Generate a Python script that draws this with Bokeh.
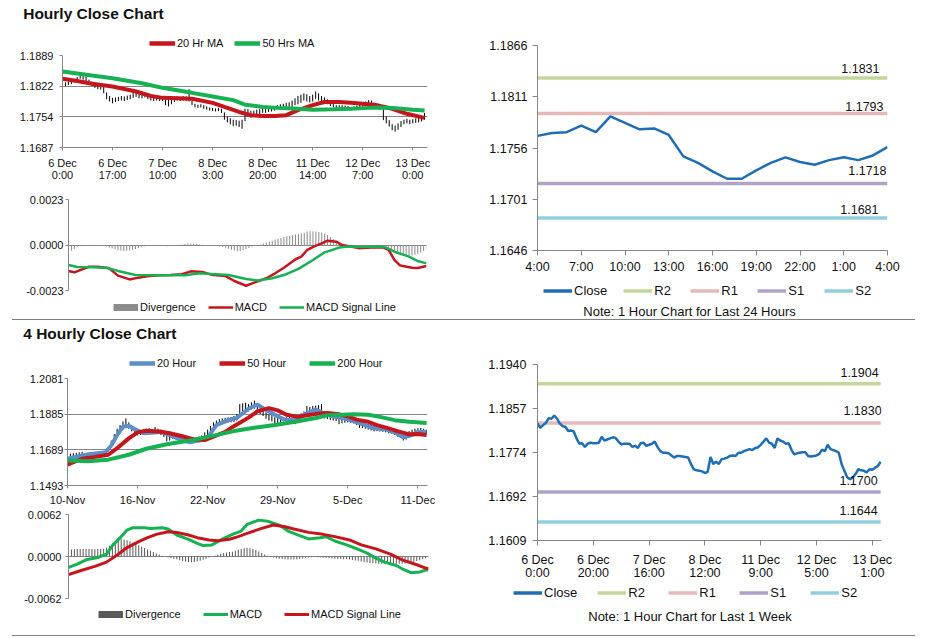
from bokeh.plotting import figure
from bokeh.models import (Range1d, FixedTicker, Legend, LegendItem, Label, Div,
                          ColumnDataSource, NumeralTickFormatter)
from bokeh.layouts import column, row
from bokeh.embed import file_html
from bokeh.resources import INLINE
from bokeh.core.properties import value

# ---------------------------------------------------------------- data
# Hourly close chart (hour index 0 = 6 Dec 0:00)
p1_lo = [1.1826,1.1822,1.1824,1.1826,1.1830,1.1836,1.1838,1.1836,1.1832,1.1827,
         1.1822,1.1818,1.1815,1.1814,1.1806,1.1793,1.1788,1.1784,1.1787,1.1789,
         1.1790,1.1789,1.1791,1.1793,1.1796,1.1798,1.1795,1.1795,1.1797,1.1793,
         1.1790,1.1789,1.1790,1.1789,1.1789,1.1780,1.1777,1.1782,1.1787,1.1790,
         1.1789,1.1790,1.1789,1.1788,1.1780,1.1775,1.1774,1.1775,1.1772,1.1770,
         1.1768,1.1767,1.1766,1.1767,1.1763,1.1748,1.1742,1.1738,1.1734,1.1735,
         1.1732,1.1728,1.1745,1.1755,1.1752,1.1755,1.1758,1.1760,1.1763,1.1763,
         1.1765,1.1766,1.1768,1.1772,1.1770,1.1773,1.1775,1.1774,1.1776,1.1780,
         1.1782,1.1785,1.1790,1.1788,1.1786,1.1788,1.1794,1.1790,1.1788,1.1785,
         1.1782,1.1778,1.1775,1.1770,1.1772,1.1773,1.1772,1.1770,1.1768,1.1770,
         1.1772,1.1774,1.1777,1.1778,1.1780,1.1779,1.1776,1.1773,1.1770,1.1747,
         1.1740,1.1733,1.1725,1.1722,1.1726,1.1732,1.1738,1.1740,1.1738,1.1740,
         1.1741,1.1742,1.1744,1.1748]
p1_hi = [1.1833,1.1830,1.1832,1.1834,1.1838,1.1842,1.1846,1.1847,1.1843,1.1836,
         1.1832,1.1830,1.1826,1.1825,1.1822,1.1808,1.1800,1.1796,1.1797,1.1798,
         1.1800,1.1799,1.1801,1.1803,1.1808,1.1809,1.1806,1.1804,1.1806,1.1804,
         1.1799,1.1797,1.1799,1.1796,1.1798,1.1793,1.1792,1.1795,1.1797,1.1799,
         1.1797,1.1800,1.1799,1.1815,1.1790,1.1783,1.1781,1.1782,1.1780,1.1777,
         1.1775,1.1774,1.1773,1.1774,1.1772,1.1764,1.1755,1.1751,1.1748,1.1747,
         1.1746,1.1748,1.1772,1.1772,1.1768,1.1768,1.1770,1.1771,1.1772,1.1773,
         1.1775,1.1776,1.1778,1.1780,1.1782,1.1783,1.1785,1.1786,1.1790,1.1795,
         1.1800,1.1803,1.1806,1.1804,1.1800,1.1803,1.1810,1.1806,1.1800,1.1797,
         1.1793,1.1790,1.1786,1.1780,1.1780,1.1780,1.1779,1.1778,1.1776,1.1777,
         1.1779,1.1781,1.1783,1.1788,1.1791,1.1790,1.1785,1.1782,1.1778,1.1772,
         1.1755,1.1747,1.1738,1.1735,1.1740,1.1745,1.1748,1.1750,1.1748,1.1749,
         1.1751,1.1752,1.1755,1.1763]
p1_ma20_x = [0,5,10,17,25,30,34,44,51,55,60,64,68,72,76,80,85,89,94,98,102,106,112,117,123]
p1_ma20 = [1.1838,1.1833,1.1827,1.1821,1.1810,1.1800,1.1796,1.1794,1.1785,1.1776,
           1.1765,1.1758,1.1756,1.1756,1.1758,1.1769,1.1780,1.1787,1.1787,1.1785,
           1.1783,1.1781,1.1772,1.1761,1.1752]
p1_ma50_x = [0,10,17,27,34,44,51,58,62,68,73,80,85,92,98,104,107,112,119,123]
p1_ma50 = [1.1854,1.1845,1.1839,1.1828,1.1818,1.1807,1.1799,1.1791,1.1781,1.1776,
           1.1774,1.1772,1.1770,1.1771,1.1772,1.1774,1.1775,1.1774,1.1770,1.1768]
p1_tick_idx = [0, 17, 34, 51, 68, 85, 102, 119]
p1_tick_labels = ["6 Dec\n0:00", "6 Dec\n17:00", "7 Dec\n10:00", "8 Dec\n3:00",
                  "8 Dec\n20:00", "11 Dec\n14:00", "12 Dec\n7:00", "13 Dec\n0:00"]
p1_yticks = [1.1687, 1.1754, 1.1822, 1.1889]

# Hourly MACD
p2_div = [-0.00034,-0.00028,-0.00020,-0.00012,-0.00006,-0.00003,-0.00002,-0.00001,0.00000,0.00000,
          -0.00001,-0.00002,-0.00004,-0.00008,-0.00013,-0.00018,-0.00022,-0.00026,-0.00029,-0.00030,
          -0.00029,-0.00027,-0.00024,-0.00020,-0.00016,-0.00012,-0.00008,-0.00005,-0.00003,-0.00002,
          -0.00002,-0.00003,-0.00004,-0.00005,-0.00006,-0.00005,-0.00003,-0.00001,0.00001,0.00003,
          0.00005,0.00007,0.00008,0.00008,0.00006,0.00003,0.00001,-0.00001,-0.00002,-0.00003,
          -0.00004,-0.00005,-0.00007,-0.00010,-0.00014,-0.00019,-0.00024,-0.00028,-0.00031,-0.00030,
          -0.00026,-0.00021,-0.00015,-0.00009,-0.00004,0.00000,0.00003,0.00006,0.00010,0.00016,
          0.00022,0.00028,0.00032,0.00036,0.00040,0.00044,0.00047,0.00050,0.00053,0.00056,
          0.00058,0.00062,0.00068,0.00070,0.00070,0.00068,0.00066,0.00063,0.00058,0.00050,
          0.00040,0.00030,0.00018,0.00008,0.00002,-0.00002,-0.00004,-0.00005,-0.00006,-0.00006,
          -0.00005,-0.00004,-0.00003,-0.00002,-0.00001,0.00000,0.00000,-0.00001,-0.00003,-0.00008,
          -0.00014,-0.00022,-0.00030,-0.00037,-0.00043,-0.00048,-0.00052,-0.00054,-0.00053,-0.00050,
          -0.00045,-0.00038,-0.00030,-0.00022]
p2_macd_x = [0,2,7,10,14,17,21,24,27,31,35,39,42,46,49,54,57,61,64,68,71,74,78,80,82,85,87,89,
             92,94,97,100,104,108,110,112,114,118,120,123]
p2_macd = [-0.00131,-0.00138,-0.00110,-0.00110,-0.00118,-0.00155,-0.00174,-0.00165,-0.00158,-0.00153,
           -0.00152,-0.00148,-0.00133,-0.00136,-0.00150,-0.00157,-0.00182,-0.00206,-0.00189,-0.00168,
           -0.00143,-0.00115,-0.00072,-0.00059,-0.00025,-0.00003,0.00008,0.00022,0.00017,0.00000,
           -0.00008,-0.00017,-0.00013,-0.00012,-0.00025,-0.00076,-0.00104,-0.00115,-0.00116,-0.00106]
p2_sig_x = [0,3,8,13,17,23,31,40,45,49,55,61,65,70,74,79,84,88,93,96,100,106,109,112,117,120,123]
p2_sig = [-0.00101,-0.00111,-0.00113,-0.00115,-0.00131,-0.00152,-0.00153,-0.00153,-0.00143,-0.00146,
          -0.00152,-0.00172,-0.00179,-0.00168,-0.00152,-0.00121,-0.00076,-0.00037,-0.00013,-0.00008,
          -0.00010,-0.00008,-0.00012,-0.00034,-0.00059,-0.00081,-0.00093]
p2_yticks = [-0.0023, 0.0, 0.0023]

# Hourly chart for last 24 hours
p3_close = [1.1769,1.1772,1.1773,1.1780,1.1773,1.1790,1.1783,1.1776,1.1777,1.1770,
            1.1747,1.1740,1.1731,1.1723,1.1723,1.1732,1.1740,1.1746,1.1741,1.1738,
            1.1743,1.1746,1.1743,1.1748,1.1757]
p3_tick_idx = [0, 3, 6, 9, 12, 15, 18, 21, 24]
p3_tick_labels = ["4:00", "7:00", "10:00", "13:00", "16:00", "19:00", "22:00", "1:00", "4:00"]
p3_yticks = [1.1646, 1.1701, 1.1756, 1.1811, 1.1866]
p3_levels = [1.1831, 1.1793, 1.1718, 1.1681]
level_names = ["R2", "R1", "S1", "S2"]

# 4 hourly close chart (bar index 0 = 10 Nov)
p5_lo = [1.1640,1.1645,1.1650,1.1648,1.1652,1.1655,1.1650,1.1655,1.1658,1.1655,
         1.1657,1.1660,1.1662,1.1665,1.1680,1.1700,1.1730,1.1760,1.1780,1.1800,
         1.1815,1.1805,1.1790,1.1775,1.1768,1.1770,1.1772,1.1775,1.1778,1.1776,
         1.1780,1.1775,1.1770,1.1760,1.1735,1.1740,1.1750,1.1748,1.1745,1.1742,
         1.1740,1.1738,1.1735,1.1738,1.1735,1.1740,1.1745,1.1755,1.1765,1.1780,
         1.1795,1.1815,1.1825,1.1830,1.1835,1.1838,1.1840,1.1842,1.1850,1.1870,
         1.1900,1.1905,1.1900,1.1910,1.1915,1.1895,1.1885,1.1875,1.1860,1.1850,
         1.1845,1.1830,1.1835,1.1840,1.1845,1.1842,1.1845,1.1843,1.1830,1.1850,
         1.1860,1.1870,1.1885,1.1880,1.1885,1.1890,1.1880,1.1870,1.1862,1.1858,
         1.1852,1.1850,1.1848,1.1830,1.1835,1.1838,1.1840,1.1838,1.1835,1.1825,
         1.1810,1.1808,1.1805,1.1800,1.1795,1.1790,1.1792,1.1790,1.1788,1.1785,
         1.1780,1.1778,1.1770,1.1762,1.1755,1.1740,1.1745,1.1760,1.1770,1.1775,
         1.1780,1.1778,1.1776,1.1778]
p5_hi = [1.1665,1.1668,1.1670,1.1672,1.1675,1.1678,1.1672,1.1675,1.1678,1.1676,
         1.1675,1.1680,1.1682,1.1690,1.1705,1.1740,1.1775,1.1805,1.1825,1.1845,
         1.1862,1.1840,1.1820,1.1800,1.1792,1.1795,1.1800,1.1805,1.1808,1.1802,
         1.1815,1.1805,1.1800,1.1790,1.1770,1.1772,1.1778,1.1775,1.1772,1.1768,
         1.1765,1.1762,1.1758,1.1760,1.1756,1.1762,1.1768,1.1785,1.1800,1.1820,
         1.1840,1.1850,1.1858,1.1862,1.1865,1.1868,1.1870,1.1875,1.1885,1.1940,
         1.1945,1.1948,1.1940,1.1950,1.1960,1.1935,1.1925,1.1915,1.1895,1.1885,
         1.1880,1.1868,1.1865,1.1868,1.1870,1.1868,1.1870,1.1866,1.1860,1.1880,
         1.1890,1.1900,1.1930,1.1925,1.1930,1.1932,1.1935,1.1940,1.1892,1.1888,
         1.1880,1.1878,1.1875,1.1868,1.1862,1.1865,1.1866,1.1862,1.1860,1.1855,
         1.1848,1.1840,1.1835,1.1832,1.1828,1.1822,1.1820,1.1818,1.1815,1.1812,
         1.1808,1.1805,1.1800,1.1795,1.1788,1.1775,1.1780,1.1792,1.1800,1.1805,
         1.1808,1.1810,1.1805,1.1800]
p5_ma20_x = [0,5,9,13,15,17,19,21,23,26,29,32,35,39,42,46,48,51,55,58,62,65,67,71,74,78,
             81,85,88,91,95,98,102,105,109,112,115,118,120,123]
p5_ma20 = [1.1640,1.1658,1.1667,1.1676,1.1713,1.1770,1.1816,1.1821,1.1803,1.1780,
           1.1783,1.1788,1.1770,1.1743,1.1731,1.1743,1.1756,1.1825,1.1852,1.1864,
           1.1915,1.1938,1.1918,1.1882,1.1857,1.1852,1.1882,1.1911,1.1888,1.1873,
           1.1861,1.1846,1.1825,1.1807,1.1801,1.1785,1.1758,1.1770,1.1788,1.1785]
p5_ma50_x = [0,5,9,14,17,21,24,27,32,35,39,43,47,50,54,57,62,65,69,72,75,79,82,86,89,93,
             96,99,103,106,110,113,117,120,123]
p5_ma50 = [1.1608,1.1640,1.1649,1.1662,1.1698,1.1752,1.1785,1.1794,1.1788,1.1780,
           1.1765,1.1747,1.1743,1.1761,1.1788,1.1819,1.1866,1.1900,1.1918,1.1906,
           1.1882,1.1870,1.1879,1.1888,1.1891,1.1884,1.1873,1.1855,1.1843,1.1825,
           1.1807,1.1792,1.1774,1.1776,1.1770]
p5_ma200_x = [0,7,14,21,27,34,43,50,57,64,71,78,85,89,94,98,103,107,112,117,123]
p5_ma200 = [1.1630,1.1626,1.1635,1.1662,1.1695,1.1720,1.1743,1.1767,1.1792,1.1810,
            1.1825,1.1843,1.1864,1.1879,1.1882,1.1884,1.1882,1.1870,1.1852,1.1843,1.1837]
p5_tick_idx = [0, 24, 48, 72, 96, 120]
p5_tick_labels = ["10-Nov", "16-Nov", "22-Nov", "29-Nov", "5-Dec", "11-Dec"]
p5_yticks = [1.1493, 1.1689, 1.1885, 1.2081]

# 4 hourly MACD
p6_div = [0.00100,0.00105,0.00108,0.00110,0.00110,0.00112,0.00112,0.00110,0.00110,0.00108,
          0.00110,0.00112,0.00115,0.00130,0.00160,0.00195,0.00225,0.00245,0.00255,0.00250,
          0.00240,0.00225,0.00205,0.00185,0.00165,0.00145,0.00125,0.00105,0.00085,0.00065,
          0.00045,0.00028,0.00012,0.00000,-0.00012,-0.00022,-0.00032,-0.00042,-0.00055,-0.00065,
          -0.00075,-0.00082,-0.00085,-0.00082,-0.00075,-0.00062,-0.00048,-0.00032,-0.00016,-0.00003,
          0.00010,0.00025,0.00040,0.00052,0.00060,0.00065,0.00070,0.00085,0.00100,0.00112,
          0.00120,0.00125,0.00122,0.00112,0.00095,0.00075,0.00052,0.00030,0.00012,-0.00002,
          -0.00014,-0.00024,-0.00032,-0.00038,-0.00042,-0.00045,-0.00046,-0.00045,-0.00042,-0.00036,
          -0.00028,-0.00020,-0.00014,-0.00010,-0.00008,-0.00010,-0.00014,-0.00018,-0.00022,-0.00026,
          -0.00030,-0.00034,-0.00036,-0.00038,-0.00040,-0.00042,-0.00046,-0.00052,-0.00058,-0.00064,
          -0.00072,-0.00080,-0.00088,-0.00095,-0.00100,-0.00104,-0.00106,-0.00106,-0.00104,-0.00102,
          -0.00102,-0.00104,-0.00106,-0.00108,-0.00108,-0.00104,-0.00098,-0.00090,-0.00080,-0.00068,
          -0.00054,-0.00040,-0.00026,-0.00014]
p6_macd_x = [0,3,6,10,13,15,18,20,22,26,28,32,34,37,41,44,46,49,52,56,59,61,65,68,72,75,79,82,
             86,88,91,95,98,102,105,108,112,114,117,120,122,123]
p6_macd = [-0.00161,-0.00112,-0.00049,-0.00015,0.00034,0.00161,0.00293,0.00390,0.00425,0.00425,
           0.00415,0.00425,0.00405,0.00317,0.00254,0.00195,0.00161,0.00171,0.00244,0.00327,
           0.00376,0.00473,0.00537,0.00522,0.00464,0.00376,0.00307,0.00259,0.00278,0.00293,
           0.00229,0.00171,0.00122,0.00049,-0.00024,-0.00083,-0.00132,-0.00181,-0.00239,-0.00229,
           -0.00200,-0.00200]
p6_sig_x = [0,4,9,13,17,20,24,27,30,34,37,41,44,48,51,55,58,61,66,70,74,77,82,87,91,96,100,105,
            110,114,119,122,123]
p6_sig = [-0.00268,-0.00210,-0.00146,-0.00083,0.00034,0.00132,0.00220,0.00278,0.00327,0.00366,
          0.00356,0.00317,0.00278,0.00244,0.00234,0.00254,0.00293,0.00342,0.00415,0.00464,
          0.00439,0.00405,0.00356,0.00327,0.00293,0.00244,0.00171,0.00112,0.00034,-0.00049,
          -0.00122,-0.00171,-0.00181]
p6_yticks = [-0.0062, 0.0, 0.0062]

# Hourly chart for last 1 week
p7_close = [1.1829,1.1821,1.1826,1.1830,1.1839,1.1838,1.1844,1.1838,1.1829,1.1824,
            1.1823,1.1815,1.1816,1.1814,1.1801,1.1791,1.1792,1.1785,1.1791,1.1793,
            1.1792,1.1792,1.1793,1.1804,1.1797,1.1799,1.1801,1.1803,1.1802,1.1795,
            1.1790,1.1791,1.1791,1.1791,1.1785,1.1787,1.1783,1.1792,1.1793,1.1787,
            1.1789,1.1791,1.1795,1.1785,1.1777,1.1774,1.1774,1.1773,1.1769,1.1765,
            1.1768,1.1768,1.1767,1.1766,1.1765,1.1753,1.1743,1.1741,1.1740,1.1739,
            1.1736,1.1738,1.1766,1.1753,1.1757,1.1753,1.1762,1.1763,1.1765,1.1768,
            1.1769,1.1768,1.1774,1.1774,1.1777,1.1779,1.1781,1.1779,1.1783,1.1784,
            1.1789,1.1795,1.1801,1.1793,1.1791,1.1783,1.1801,1.1797,1.1795,1.1791,
            1.1792,1.1780,1.1771,1.1773,1.1774,1.1775,1.1775,1.1768,1.1767,1.1768,
            1.1769,1.1772,1.1780,1.1777,1.1789,1.1781,1.1779,1.1777,1.1774,1.1753,
            1.1740,1.1728,1.1724,1.1728,1.1734,1.1743,1.1741,1.1740,1.1737,1.1743,
            1.1742,1.1746,1.1749,1.1757]
p7_tick_idx = [0, 20, 40, 60, 80, 100, 120]
p7_tick_labels = ["6 Dec\n0:00", "6 Dec\n20:00", "7 Dec\n16:00", "8 Dec\n12:00",
                  "11 Dec\n9:00", "12 Dec\n5:00", "13 Dec\n1:00"]
p7_yticks = [1.1609, 1.1692, 1.1774, 1.1857, 1.1940]
p7_levels = [1.1904, 1.1830, 1.1700, 1.1644]

# ---------------------------------------------------------------- style
FONT = "Liberation Sans"
GRIDC = "#868686"
TXT = "#111111"
RED = "#c4161c"
GREEN = "#16b152"
BLUE20 = "#5d8ec9"
CLOSE = "#1f6db4"
DIV1 = "#8c8c8c"
DIV4 = "#5a5a5a"
LEVEL_COLORS = ["#c3d69b", "#e6b9b8", "#b3a2c7", "#93cddd"]
NAN = float("nan")


def make_fig(w, h, xr, yr, bl, br, bt, bb):
    p = figure(width=w, height=h, x_range=Range1d(xr[0], xr[1]), y_range=Range1d(yr[0], yr[1]),
               output_backend="svg", toolbar_location=None, tools="", title=None,
               min_border_left=bl, min_border_right=br, min_border_top=bt, min_border_bottom=bb)
    p.outline_line_color = None
    p.xgrid.visible = False
    p.ygrid.visible = False
    return p


def make_strip(w, h):
    # text / legend strip: one data unit = one pixel, y measured from the top
    s = figure(width=w, height=h, x_range=Range1d(0, w), y_range=Range1d(h, 0),
               output_backend="svg", toolbar_location=None, tools="", title=None,
               x_axis_location=None, y_axis_location=None,
               min_border_left=0, min_border_right=0, min_border_top=0, min_border_bottom=0)
    s.outline_line_color = None
    s.grid.visible = False
    return s


def style_axis(ax, size, tick_out, standoff):
    ax.axis_line_color = GRIDC
    ax.major_tick_line_color = GRIDC
    ax.major_tick_out = tick_out
    ax.major_tick_in = 0
    ax.minor_tick_line_color = None
    ax.major_label_text_font = FONT
    ax.major_label_text_font_size = size
    ax.major_label_text_color = TXT
    ax.major_label_standoff = standoff


def set_yaxis(p, ticks, size, tick_out, standoff, grid):
    t = FixedTicker(ticks=ticks)
    ax = p.yaxis[0]
    ax.ticker = t
    ax.formatter = NumeralTickFormatter(format="0.0000")
    style_axis(ax, size, tick_out, standoff)
    if grid:
        g = p.ygrid[0]
        g.visible = True
        g.ticker = t
        g.grid_line_color = GRIDC
        g.grid_line_width = 1


def set_xaxis(p, ticks, labels, size, tick_out, standoff, lh=1.2):
    ax = p.xaxis[0]
    ax.ticker = FixedTicker(ticks=ticks)
    ax.major_label_overrides = {t: l for t, l in zip(ticks, labels)}
    style_axis(ax, size, tick_out, standoff)
    ax.major_label_text_line_height = lh


def add_legend(s, entries, loc, gw, standoff, spacing, size, gh=12):
    items = []
    for label, color, width in entries:
        # legend swatch only: a single empty (NaN) point, nothing is drawn in the strip
        r = s.line(x=[NAN], y=[NAN], line_color=color, line_width=width)
        items.append(LegendItem(label=label, renderers=[r]))
    lg = Legend(items=items, location=loc, orientation="horizontal", glyph_width=gw,
                glyph_height=gh, label_standoff=standoff, spacing=spacing, padding=0, margin=0,
                border_line_color=None, background_fill_alpha=0,
                label_text_font=FONT, label_text_font_size=size, label_height=gh,
                label_text_color=TXT)
    s.add_layout(lg)


def add_text(s, text, x, y, size, bold=False, align="left"):
    s.add_layout(Label(x=x, y=y, text=text, text_font=FONT, text_font_size=size,
                       text_font_style="bold" if bold else "normal",
                       text_color=TXT, text_align=align, text_baseline="middle"))


# ---------------------------------------------------------------- top left
s1 = make_strip(460, 50)
add_text(s1, "Hourly Close Chart", 22.7, 12.8, "15.5px", bold=True)
add_legend(s1, [("20 Hr MA", RED, 4.5), ("50 Hrs MA", GREEN, 4.5)], (149, 1), 26, 2, 11, "11px")

h_idx1 = list(range(len(p1_lo)))
p1 = make_fig(460, 138, (0, 124), (p1_yticks[0], p1_yticks[-1]), 62, 33, 5, 41)
p1.segment(x0=h_idx1, y0=p1_lo, x1=h_idx1, y1=p1_hi, line_color="black", line_width=1)
p1.line(p1_ma20_x, p1_ma20, line_color=RED, line_width=4)
p1.line(p1_ma50_x, p1_ma50, line_color=GREEN, line_width=4)
set_yaxis(p1, p1_yticks, "11px", 3, 6, True)
set_xaxis(p1, p1_tick_idx, p1_tick_labels, "11px", 3, 6, 1.07)

h_idx2 = list(range(len(p2_div)))
p2 = make_fig(460, 108, (0, 123), (p2_yticks[0], p2_yticks[-1]), 68, 34, 11, 6)
p2.vbar(x=h_idx2, top=p2_div, bottom=0, width=0.35, fill_color=DIV1, line_color=None)
p2.line(p2_macd_x, p2_macd, line_color=RED, line_width=2.5)
p2.line(p2_sig_x, p2_sig, line_color=GREEN, line_width=2.5)
set_yaxis(p2, p2_yticks, "11px", 3, 2, True)
p2.xaxis.visible = False

s2 = make_strip(460, 23)
add_legend(s2, [("Divergence", DIV1, 7), ("MACD", RED, 2.5), ("MACD Signal Line", GREEN, 2.5)],
           (113, 6), 25, 2, 12, "11px")

# ---------------------------------------------------------------- top right
h_idx3 = list(range(len(p3_close)))
p3 = make_fig(468, 280, (0, 24), (p3_yticks[0], p3_yticks[-1]), 77, 41, 45, 30)
for lvl, col in zip(p3_levels, LEVEL_COLORS):
    p3.line([h_idx3[0], h_idx3[-1]], [lvl, lvl], line_color=col, line_width=3.5)
p3.line(h_idx3, p3_close, line_color=CLOSE, line_width=2.5)
src3 = ColumnDataSource(dict(x=[h_idx3[-1]] * 4, y=p3_levels,
                             text=["%.4f" % v for v in p3_levels],
                             xo=[-8, -4, -1, -9], yo=[-10, -7, -13, -8]))
p3.text(x="x", y="y", text="text", x_offset="xo", y_offset="yo", source=src3,
        text_align="right", text_baseline="middle", text_font=value(FONT),
        text_font_size="12.5px", text_color=TXT)
set_yaxis(p3, p3_yticks, "12.5px", 5, 5, False)
set_xaxis(p3, p3_tick_idx, p3_tick_labels, "12.5px", 5, 4)

s3 = make_strip(468, 39)
add_legend(s3, [("Close", CLOSE, 3.5)] + [(n, c, 3.5) for n, c in zip(level_names, LEVEL_COLORS)],
           (83, 21.5), 29, 2, 16, "13px", 13)
add_text(s3, "Note: 1 Hour Chart for Last 24 Hours", 229, 31, "13px", align="center")

# ---------------------------------------------------------------- bottom left
s4 = make_strip(460, 50)
add_text(s4, "4 Hourly Close Chart", 22.7, 12.8, "15.5px", bold=True)
add_legend(s4, [("20 Hour", BLUE20, 4.5), ("50 Hour", RED, 4.5), ("200 Hour", GREEN, 4.5)],
           (129, 1), 26, 2, 23, "11px")

h_idx5 = list(range(len(p5_lo)))
p5 = make_fig(460, 138, (0, 123.3), (p5_yticks[0], p5_yticks[-1]), 67, 33, 8, 22)
p5.segment(x0=h_idx5, y0=p5_lo, x1=h_idx5, y1=p5_hi, line_color="black", line_width=1)
p5.line(p5_ma20_x, p5_ma20, line_color=BLUE20, line_width=4)
p5.line(p5_ma50_x, p5_ma50, line_color=RED, line_width=4)
p5.line(p5_ma200_x, p5_ma200, line_color=GREEN, line_width=4)
set_yaxis(p5, p5_yticks, "11px", 3, 1, True)
set_xaxis(p5, p5_tick_idx, p5_tick_labels, "11px", 3, 5)

h_idx6 = list(range(len(p6_div)))
p6 = make_fig(460, 96, (0, 123), (p6_yticks[0], p6_yticks[-1]), 68, 32, 6, 6)
p6.vbar(x=h_idx6, top=p6_div, bottom=0, width=0.35, fill_color=DIV4, line_color=None)
p6.line(p6_macd_x, p6_macd, line_color=GREEN, line_width=3)
p6.line(p6_sig_x, p6_sig, line_color=RED, line_width=3)
set_yaxis(p6, p6_yticks, "11px", 3, 4, True)
p6.xaxis.visible = False

s5 = make_strip(460, 31)
add_legend(s5, [("Divergence", DIV4, 7), ("MACD", GREEN, 3), ("MACD Signal Line", RED, 3)],
           (98, 15), 25, 2, 22, "11px")

# ---------------------------------------------------------------- bottom right
h_idx7 = list(range(len(p7_close)))
p7 = make_fig(468, 262, (0, 123.3), (p7_yticks[0], p7_yticks[-1]), 77, 47, 44, 37)
for lvl, col in zip(p7_levels, LEVEL_COLORS):
    p7.line([h_idx7[0], h_idx7[-1]], [lvl, lvl], line_color=col, line_width=3.5)
p7.line(h_idx7, p7_close, line_color=CLOSE, line_width=2.5)
src7 = ColumnDataSource(dict(x=[h_idx7[-1]] * 4, y=p7_levels,
                             text=["%.4f" % v for v in p7_levels],
                             xo=[-2, 1, -3, -3], yo=[-11, -12, -12, -11]))
p7.text(x="x", y="y", text="text", x_offset="xo", y_offset="yo", source=src7,
        text_align="right", text_baseline="middle", text_font=value(FONT),
        text_font_size="12.5px", text_color=TXT)
set_yaxis(p7, p7_yticks, "12.5px", 5, 6, False)
set_xaxis(p7, p7_tick_idx, p7_tick_labels, "12.5px", 5, 7, 0.94)

s6 = make_strip(468, 53)
add_legend(s6, [("Close", CLOSE, 3.5)] + [(n, c, 3.5) for n, c in zip(level_names, LEVEL_COLORS)],
           (53, 35.5), 29, 2, 20, "13px", 13)
add_text(s6, "Note: 1 Hour Chart for Last 1 Week", 229.5, 34, "13px", align="center")

# ---------------------------------------------------------------- layout
# every figure sits in its own row so that no two figures share a parent box
def solo(f):
    return row(f)


sep1 = Div(text="", width=903, height=1, margin=(0, 0, 0, 12),
           styles={"background-color": "#7f7f7f"})
sep2 = Div(text="", width=903, height=1, margin=(0, 0, 0, 12),
           styles={"background-color": "#7f7f7f"})
top = row(column(solo(s1), solo(p1), solo(p2), solo(s2)), column(solo(p3), solo(s3)))
bottom = row(column(solo(s4), solo(p5), solo(p6), solo(s5)), column(solo(p7), solo(s6)))
layout = column(top, sep1, bottom, sep2)

open("out.html", "w").write(file_html(layout, INLINE, "Close Charts"))
